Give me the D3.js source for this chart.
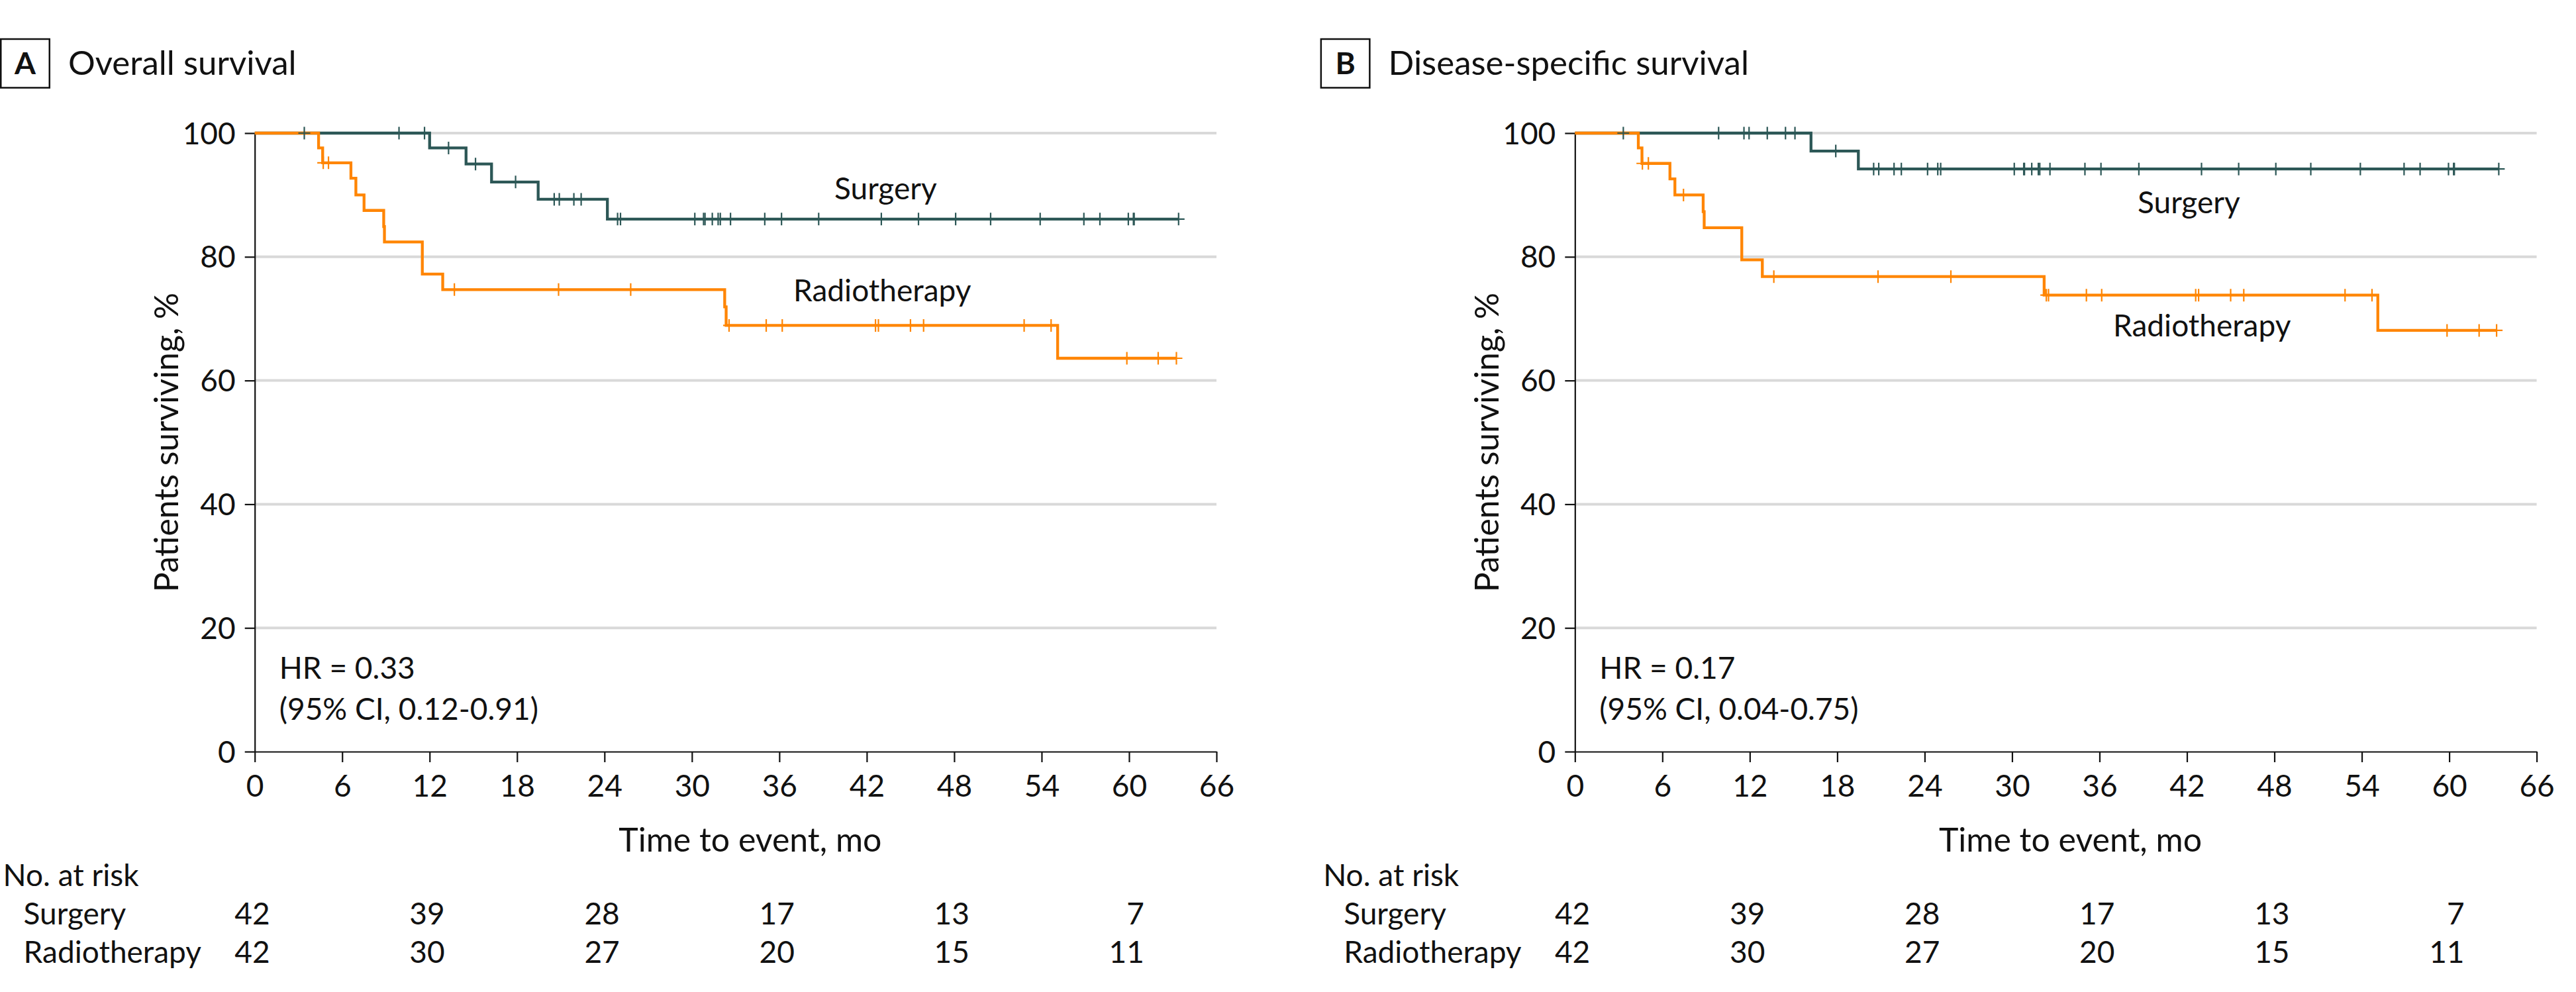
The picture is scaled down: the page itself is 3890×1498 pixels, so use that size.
<!DOCTYPE html>
<html>
<head>
<meta charset="utf-8">
<script src="https://cdn.jsdelivr.net/npm/d3@7"></script>
<style>
  body { margin: 0; background: #fff; }
  svg text { font-family: Lato, "Open Sans", sans-serif; fill: #111; }
</style>
</head>
<body>
<div class="d3-here"></div>
<script>
// data: steps are [month, % surviving] where the curve changes, censor = months
var xTicks = [0, 6, 12, 18, 24, 30, 36, 42, 48, 54, 60, 66];
var yTicks = [0, 20, 40, 60, 80, 100];
var riskTimes = [0, 12, 24, 36, 48, 60];
var groups = ['Surgery', 'Radiotherapy'];

var osSurgerySteps = [[0, 100], [12.0, 97.6], [14.5, 95.0], [16.25, 92.1], [19.45, 89.3], [24.2, 86.1]];
var osSurgeryCensor = [3.4, 9.9, 11.65, 13.3, 15.15, 17.9, 20.55, 20.9, 21.9, 22.4, 24.9, 25.1, 30.2, 30.8, 30.9,
	31.4, 31.8, 31.95, 32.65, 35.0, 36.15, 38.7, 43.0, 45.55, 48.1, 50.5, 53.9, 56.9, 58.0, 59.95, 60.3, 60.35, 63.4];
var osRadioSteps = [[0, 100], [4.38, 97.6], [4.66, 95.2], [6.6, 92.7], [6.94, 90.0], [7.5, 87.5], [8.85, 84.9],
	[8.9, 82.4], [11.5, 77.2], [12.9, 74.7], [32.25, 71.9], [32.35, 68.9], [55.1, 63.6]];
var osRadioCensor = [4.7, 5.06, 13.7, 20.85, 25.8, 32.55, 35.1, 36.2, 42.6, 42.8, 45.0, 45.9, 52.8, 54.65,
	59.85, 62.0, 63.25];

var dssSurgerySteps = [[0, 100], [16.2, 97.1], [19.45, 94.2]];
var dssSurgeryCensor = [3.32, 9.86, 11.6, 11.95, 13.2, 14.45, 15.1, 17.9, 20.5, 20.85, 21.9, 22.4, 24.2, 24.9, 25.1,
	30.15, 30.8, 30.85, 31.35, 31.8, 31.9, 32.6, 35.0, 36.1, 38.7, 43.0, 45.55, 48.1, 50.5, 53.9, 56.9, 58.0,
	59.95, 60.3, 60.35, 63.4];
var dssRadioSteps = [[0, 100], [4.35, 97.6], [4.6, 95.1], [6.52, 92.6], [6.86, 90.0], [8.8, 87.3], [8.87, 84.7],
	[11.45, 79.5], [12.86, 76.8], [32.2, 73.8], [55.1, 68.1]];
var dssRadioCensor = [4.63, 5.04, 7.45, 13.65, 20.8, 25.8, 32.35, 32.5, 35.1, 36.15, 42.6, 42.8, 45.0, 45.9,
	52.85, 54.7, 59.85, 62.05, 63.25];

var riskSurgery = [42, 39, 28, 17, 13, 7];
var riskRadio = [42, 30, 27, 20, 15, 11];

// Options
var $c_surg = '#2c5756',
	$c_radio = '#ff8502',
	$c_grid = '#d9d9d9';
var width = 3890;
var height = 1498;
var plotLeft = 384.7;
var plotTop = 201;
var plotW = 1452.3;
var plotH = 934;
var panelGap = 1993.6;

var panels = [
	{ letter: 'A', title: 'Overall survival', hr: 'HR = 0.33', ci: '(95% CI, 0.12-0.91)',
		surg: osSurgerySteps, surgC: osSurgeryCensor, radio: osRadioSteps, radioC: osRadioCensor,
		surgLab: [1260, 300.7], radioLab: [1198, 455] },
	{ letter: 'B', title: 'Disease-specific survival', hr: 'HR = 0.17', ci: '(95% CI, 0.04-0.75)',
		surg: dssSurgerySteps, surgC: dssSurgeryCensor, radio: dssRadioSteps, radioC: dssRadioCensor,
		surgLab: [1234.4, 321.7], radioLab: [1197.4, 508] }
];

var svg = d3.select('.d3-here')
	.append('svg')
	.attr('width', width)
	.attr('height', height);

var xScale = d3.scaleLinear().domain([0, 66]).range([0, plotW]);
var yScale = d3.scaleLinear().domain([0, 100]).range([plotH, 0]);

// value of the step curve at time t
function survAt(steps, t) {
	var v = steps[0][1];
	steps.forEach(function(s) { if (s[0] <= t) v = s[1]; });
	return v;
}

function curvePoints(steps, censor) {
	var end = d3.max(censor);
	return steps.concat([[end, survAt(steps, end)]]);
}

var stepLine = d3.line()
	.x(function(d) { return xScale(d[0]); })
	.y(function(d) { return yScale(d[1]); })
	.curve(d3.curveStepAfter);

panels.forEach(function(p, pi) {
	var off = pi * panelGap;
	var root = svg.append('g').attr('transform', 'translate(' + off + ',0)');

	// title + letter box
	root.append('rect')
		.attr('x', 1.25).attr('y', 59).attr('width', 73.5).attr('height', 73.5)
		.attr('fill', 'none').attr('stroke', '#111').attr('stroke-width', 2.5);
	root.append('text')
		.attr('x', 38).attr('y', 112)
		.attr('text-anchor', 'middle')
		.style('font-size', '46px').style('font-weight', 'bold')
		.text(p.letter);
	root.append('text')
		.attr('x', 103).attr('y', 113)
		.style('font-size', '51px')
		.text(p.title);

	var g = root.append('g').attr('transform', 'translate(' + plotLeft + ',' + plotTop + ')');

	// grid
	g.append('g').selectAll('line')
		.data(yTicks.filter(function(d) { return d > 0; }))
		.enter()
		.append('line')
		.attr('x1', 0).attr('x2', xScale(66))
		.attr('y1', function(d) { return yScale(d); })
		.attr('y2', function(d) { return yScale(d); })
		.attr('stroke', $c_grid).attr('stroke-width', 4);

	// axes
	var yAxis = g.append('g')
		.call(d3.axisLeft(yScale).tickValues(yTicks).tickSize(15).tickSizeOuter(0).tickPadding(14));
	yAxis.selectAll('text').style('font-size', '46px').attr('dy', '0.35em');

	var xAxis = g.append('g')
		.attr('transform', 'translate(0,' + plotH + ')')
		.call(d3.axisBottom(xScale).tickValues(xTicks).tickSize(16).tickSizeOuter(0));
	xAxis.selectAll('text').style('font-size', '46px').attr('dy', null).attr('y', 68);

	[yAxis, xAxis].forEach(function(a) {
		a.select('.domain').attr('stroke', '#111').attr('stroke-width', 2.2);
		a.selectAll('.tick line').attr('stroke', '#111').attr('stroke-width', 2.2);
	});

	// curves
	var series = [
		{ pts: curvePoints(p.surg, p.surgC), steps: p.surg, censor: p.surgC, col: $c_surg },
		{ pts: curvePoints(p.radio, p.radioC), steps: p.radio, censor: p.radioC, col: $c_radio }
	];

	g.append('g').attr('class', 'svg-lines').selectAll('path')
		.data(series)
		.enter()
		.append('path')
		.attr('d', function(d) { return stepLine(d.pts); })
		.attr('fill', 'none')
		.attr('stroke', function(d) { return d.col; })
		.attr('stroke-width', 4.3);

	// censor marks
	series.forEach(function(s) {
		g.append('g').selectAll('path')
			.data(s.censor)
			.enter()
			.append('path')
			.attr('d', function(t) {
				var cx = xScale(t), cy = yScale(survAt(s.steps, t));
				return 'M' + (cx - 9) + ',' + cy + 'H' + (cx + 9) + 'M' + cx + ',' + (cy - 9.5) + 'V' + (cy + 9.5);
			})
			.attr('stroke', s.col)
			.attr('stroke-width', 2.2)
			.attr('fill', 'none');
	});

	// curve labels
	root.append('text').attr('x', p.surgLab[0]).attr('y', p.surgLab[1])
		.style('font-size', '46px').text(groups[0]);
	root.append('text').attr('x', p.radioLab[0]).attr('y', p.radioLab[1])
		.style('font-size', '46px').text(groups[1]);

	// hazard ratio
	g.append('text').attr('x', 37).attr('y', 824).style('font-size', '46px').text(p.hr);
	g.append('text').attr('x', 37).attr('y', 886).style('font-size', '46px').text(p.ci);

	// axis titles
	root.append('text')
		.attr('transform', 'translate(269,' + (plotTop + plotH / 2) + ') rotate(-90)')
		.attr('text-anchor', 'middle')
		.style('font-size', '50px')
		.text('Patients surviving, %');
	g.append('text')
		.attr('x', xScale(33) + 22).attr('y', plotH + 151)
		.attr('text-anchor', 'middle')
		.style('font-size', '50px')
		.text('Time to event, mo');

	// number at risk
	root.append('text').attr('x', 4.6).attr('y', 1338).style('font-size', '46px').text('No. at risk');
	var rows = [riskSurgery, riskRadio];
	var rowY = [1396, 1454];
	rows.forEach(function(r, ri) {
		root.append('text').attr('x', 35.6).attr('y', rowY[ri]).style('font-size', '46px').text(groups[ri]);
		g.append('g').selectAll('text')
			.data(r)
			.enter()
			.append('text')
			.attr('x', function(d, i) { return xScale(riskTimes[i]) + 23; })
			.attr('y', rowY[ri] - plotTop)
			.attr('text-anchor', 'end')
			.style('font-size', '46px')
			.text(function(d) { return d; });
	});
});
</script>
</body>
</html>
